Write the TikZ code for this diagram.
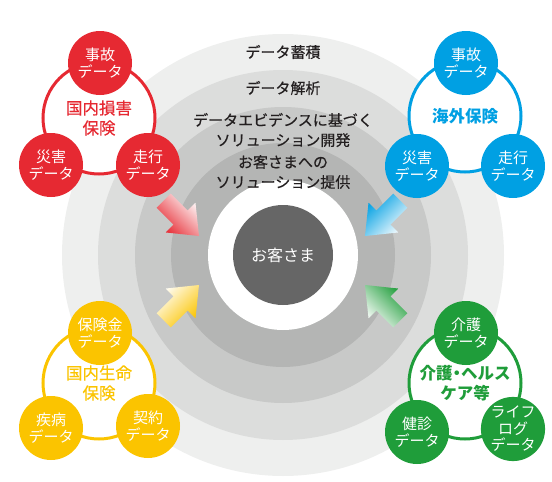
\documentclass[tikz,border=0pt]{standalone}
\usepackage{fontspec}
\setmainfont{Noto Sans CJK JP}
\newfontfamily\cjkmed[FakeBold=0.5]{Noto Sans CJK JP}
\usetikzlibrary{calc}
\definecolor{cSonpo}{HTML}{E62932}
\definecolor{cKaigai}{HTML}{00A0E3}
\definecolor{cSeimei}{HTML}{FBC400}
\definecolor{cKaigo}{HTML}{1F9D3A}
\definecolor{cAnilloA}{HTML}{EEEFEE}
\definecolor{cAnilloB}{HTML}{DCDDDC}
\definecolor{cAnilloC}{HTML}{C8C9C8}
\definecolor{cAnilloD}{HTML}{B4B5B4}
\definecolor{cCentro}{HTML}{666666}
\definecolor{cTxt}{HTML}{231F20}
\tikzset{
    grande/.style={circle, draw=#1, fill=white, line width=3pt,
                   minimum size=112pt, inner sep=0pt},
    dato/.style={circle, fill=#1, text=white, minimum size=64pt, inner sep=0pt,
                 align=center, font=\fontsize{15}{17.5}\selectfont},
    titulo/.style={text=#1, align=center, inner sep=0pt,
                   font=\cjkmed\fontsize{16.5}{20}\selectfont},
    tituloB/.style={titulo=#1, font=\bfseries\fontsize{16.5}{20}\selectfont},
    capa/.style={text=cTxt, align=center, inner sep=0pt,
                 font=\cjkmed\fontsize{15}{20}\selectfont},
}
% flecha degradada: punta, giro, color, angulo del degradado
\newcommand{\flecha}[4]{%
    \shade[shift={#1}, rotate=#2, left color=#3!4!white, right color=#3,
           shading angle=#4]
        (0,0) -- (-26,-21) -- (-26,-10) -- (-50,-10) -- (-50,10)
        -- (-26,10) -- (-26,21) -- cycle;
}

\begin{document}
\begin{tikzpicture}[x=1pt, y=-1pt]
    \useasboundingbox (0,0) rectangle (552,482);

    % anillos
    \coordinate (c) at (283,255);
    \fill[cAnilloA] (c) circle (221pt);
    \fill[cAnilloB] (c) circle (185pt);
    \fill[cAnilloC] (c) circle (148pt);
    \fill[cAnilloD] (c) circle (112pt);
    \fill[white] (c) circle (75pt);
    \node[circle, fill=cCentro, text=white, minimum size=100pt, inner sep=0pt,
          font=\fontsize{16}{18}\selectfont] (cliente) at (c) {お客さま};

    \node[capa] (acum) at (283,52) {データ蓄積};
    \node[capa] (anal) at (283,88) {データ解析};
    \node[capa] (evid) at (283,130) {データエビデンスに基づく\\ソリューション開発};
    \node[capa] (prov) at (283,172) {お客さまへの\\ソリューション提供};

    \flecha{(199,236)}{-45}{cSonpo}{-45}
    \flecha{(365,236)}{-135}{cKaigai}{-135}
    \flecha{(199,285)}{45}{cSeimei}{45}
    \flecha{(365,285)}{135}{cKaigo}{135}

    % 国内損害保険
    \node[grande=cSonpo] (sonpo) at (99,118) {};
    \node[titulo=cSonpo] at (sonpo) {国内損害\\保険};
    \node[dato=cSonpo] (sonpoA) at (100,63) {事故\\データ};
    \node[dato=cSonpo] (sonpoB) at (51,165) {災害\\データ};
    \node[dato=cSonpo] (sonpoC) at (148,165) {走行\\データ};

    % 海外保険
    \node[grande=cKaigai] (kaigai) at (465,116) {};
    \node[tituloB=cKaigai] at (kaigai) {海外保険};
    \node[dato=cKaigai] (kaigaiA) at (466,63) {事故\\データ};
    \node[dato=cKaigai] (kaigaiB) at (417,166) {災害\\データ};
    \node[dato=cKaigai] (kaigaiC) at (513,166) {走行\\データ};

    % 国内生命保険
    \node[grande=cSeimei] (seimei) at (99,383) {};
    \node[titulo=cSeimei] at (seimei) {国内生命\\保険};
    \node[dato=cSeimei] (seimeiA) at (100,333) {保険金\\データ};
    \node[dato=cSeimei] (seimeiB) at (51,428) {疾病\\データ};
    \node[dato=cSeimei] (seimeiC) at (148,426) {契約\\データ};

    % 介護・ヘルスケア等
    \node[grande=cKaigo] (kaigo) at (465,383) {};
    \node[tituloB=cKaigo] at (kaigo) {介護\kern-4pt・\kern-4ptヘルス\\ケア等};
    \node[dato=cKaigo] (kaigoA) at (466,333) {介護\\データ};
    \node[dato=cKaigo] (kaigoB) at (417,432) {健診\\データ};
    \node[dato=cKaigo, font=\fontsize{15}{16.5}\selectfont] (kaigoC) at (513,429)
        {ライフ\\ログ\\データ};
\end{tikzpicture}
\end{document}
